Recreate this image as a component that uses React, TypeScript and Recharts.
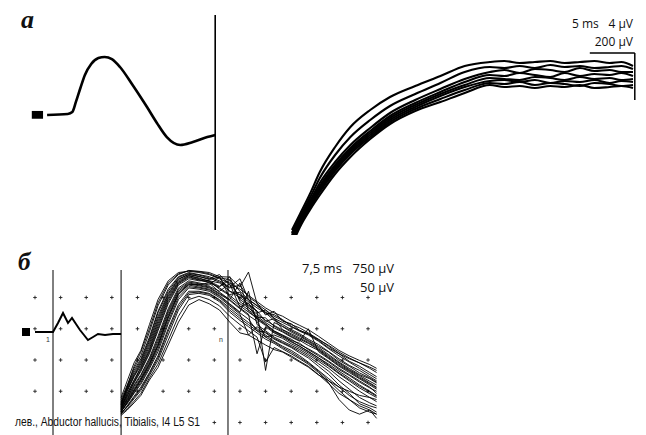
import React from 'react';
import {
  LineChart,
  Line,
  XAxis,
  YAxis,
  ReferenceLine,
  ReferenceArea,
  ScatterChart,
  Scatter,
} from 'recharts';

// ---------- panel a, left trace (ms / µV) ----------
const aLeftTime = [1.9, 4.2, 4.7, 5.1, 5.6, 6.1, 6.8, 7.6, 8.3, 9.1, 10, 11.4, 13, 14.1, 15.2, 16.7, 18.1, 19.7, 20.6];
const aLeftAmp = [0, 0.07, 0.2, 0.87, 1.8, 2.67, 3.4, 3.8, 3.87, 3.73, 3.2, 2.0, 0.53, -0.53, -1.47, -2.0, -1.8, -1.47, -1.33];

// ---------- panel a, right superimposed traces (ms / µV) ----------
const aRightTime = [0.1, 1, 2.1, 3.2, 4.9, 6.6, 8.8, 11, 13.8, 16.6, 19.3, 22.1, 23.7, 25.4, 27.1, 28.8, 30.4, 32.1, 33.7, 35.4, 36.7, 38];
const aRightTraces = [
  [20, 84, 164, 252, 352, 432, 500, 552, 596, 636, 676, 692, 696, 688, 692, 696, 688, 692, 696, 688, 692, 676],
  [8, 72, 148, 228, 320, 392, 460, 516, 564, 608, 652, 672, 668, 676, 668, 680, 672, 676, 668, 672, 676, 664],
  [0, 64, 136, 208, 292, 360, 428, 488, 540, 584, 624, 652, 660, 648, 664, 660, 652, 668, 656, 660, 652, 652],
  [-8, 56, 128, 196, 280, 348, 416, 476, 528, 572, 612, 640, 636, 648, 640, 632, 648, 636, 644, 640, 648, 636],
  [-16, 52, 120, 188, 272, 340, 408, 468, 520, 564, 600, 628, 624, 620, 632, 628, 620, 632, 624, 628, 620, 624],
  [-24, 44, 116, 180, 264, 332, 400, 460, 512, 556, 592, 616, 620, 612, 620, 608, 616, 612, 620, 608, 616, 612],
  [-32, 40, 108, 172, 256, 324, 392, 452, 504, 544, 580, 608, 604, 612, 600, 608, 604, 596, 608, 604, 596, 600],
  [-40, 32, 100, 160, 244, 312, 384, 444, 496, 532, 568, 600, 592, 596, 588, 596, 592, 600, 588, 592, 596, 588],
];

// ---------- panel b, left trace (50 µV scale) ----------
const bLeftTime = [0, 5.27, 6.73, 8.2, 9.66, 10.83, 12, 13.17, 14.34, 15.5, 17, 18.44, 20.5, 22.8, 25.2];
const bLeftAmp = [0, 0, 14.4, 30.4, 14.4, 22.4, 12.8, 3.2, -4.8, -12.8, -8, -3.2, -4.8, -3.2, -3.2];

// ---------- panel b, superimposed responses (750 µV scale) ----------
const bTime = [25.2, 27, 29, 31, 33.5, 36, 39, 42, 45, 48, 51, 54, 57, 60, 62.5, 65, 67.5, 70, 72.5, 75, 77.5, 80, 83, 86, 89, 92, 95, 98, 100];
const bTraces = [
  [-1650, -1250, -820, -520, 100, 700, 1150, 1350, 1380, 1350, 1300, 1200, 1100, 950, 800, 650, 500, 380, 300, 180, 80, -20, -180, -350, -520, -650, -760, -860, -950],
  [-1700, -1350, -950, -650, -80, 550, 1050, 1300, 1400, 1380, 1350, 1250, 1240, 1000, 1360, 600, 450, 300, 200, 100, 20, -100, -250, -420, -600, -720, -820, -950, -1050],
  [-1750, -1400, -1000, -720, -200, 420, 950, 1250, 1350, 1300, 1250, 1150, 1000, 1200, 700, 550, 400, 250, 150, 50, -60, -150, -300, -480, -650, -800, -950, -1100, -1200],
  [-1800, -1450, -1100, -800, -300, 300, 850, 1200, 1300, 1250, 1200, 1300, 1050, 800, 650, 500, 380, 200, 100, -20, -120, -250, -380, -550, -720, -880, -1000, -1150, -1250],
  [-1850, -1500, -1150, -880, -420, 180, 780, 1150, 1280, 1200, 1150, 1100, 900, 750, 600, 420, -1000, 150, 50, -80, -180, -300, -450, -620, -800, -950, -1100, -1200, -1300],
  [-1900, -1550, -1250, -950, -520, 60, 700, 1100, 1250, 1180, 1100, 1000, 1250, 650, 500, 350, 200, 80, -30, -150, -250, -350, -500, -680, -850, -1000, -1150, -1300, -1400],
  [-1880, -1600, -1300, -1020, -600, -50, 600, 1050, 1200, 1150, 1150, 950, 800, 600, 450, 300, 150, 20, -80, -200, -300, 0, -550, -720, -900, -1050, -1200, -1350, -1450],
  [-1950, -1650, -1350, -1100, -700, -180, 480, 980, 1150, 1100, 1050, 1250, 750, 550, 400, 250, 100, -50, -150, -250, -380, -480, -620, -780, -950, -1100, -1250, -1400, -1550],
  [-1920, -1700, -1420, -1180, -780, -300, 380, 900, 1100, 1050, 1000, 850, 700, 500, 350, -600, 50, -100, -200, -320, -420, -550, -700, -850, -1020, -1180, -1350, -1500, -1600],
  [-2000, -1750, -1500, -1250, -880, -420, 250, 820, 1050, 1000, 950, 800, 600, 400, 900, 100, -50, -200, -300, -400, -500, -620, -780, -950, -1150, -1320, -1500, -1650, -1750],
  [-1980, -1800, -1550, -1330, -960, -550, 120, 700, 980, 950, 900, 750, 550, 350, -150, 50, -100, -250, -350, -450, -580, -700, -900, -1100, -1350, -1550, -1800, -1900, -2000],
  [-2050, -1850, -1620, -1400, -1050, -650, 0, 580, 900, 900, 850, 700, 500, 300, 150, 0, -150, -300, -420, -520, -650, -800, -1000, -1200, -1400, -1600, -1750, -1850, -1900],
  [-2020, -1880, -1680, -1480, -1120, -760, -150, 450, 820, 850, 800, 650, 400, 200, 50, -100, -250, -350, -480, -600, -720, -850, -1050, -1300, -1700, -1950, -2050, -1950, -2150],
  [-2050, -1920, -1740, -1550, -1180, -850, -280, 300, 700, 780, 700, 550, 300, 100, -50, -200, -800, -450, -550, -650, -780, -900, -1100, -1320, -1550, -1700, -1850, -1950, -2050],
  [-2080, -1950, -1780, -1600, -1230, -930, -390, 160, 570, 700, 600, 450, 160, -100, -150, -270, -390, -500, -560, -680, -800, -920, -1110, -1250, -1400, -1500, -1600, -1650, -1700],
  [-1780, -1420, -1050, -760, -250, 380, 900, 1230, 1330, 1290, 1220, 1120, 980, 1050, 760, 620, 330, 420, 180, 120, -40, -130, -280, -460, -600, -780, -900, -1050, -1150],
  [-1830, -1480, -1130, -840, -360, 240, 820, 1180, 1310, 1260, 1180, 1240, 900, 820, 700, 380, 450, 260, 60, -50, -150, -280, -420, -560, -760, -900, -1060, -1180, -1280],
  [-1870, -1560, -1230, -920, -480, 120, 740, 1120, 1270, 1220, 1140, 1020, 1160, 700, 560, 430, 180, 240, -20, -120, -220, -330, -480, -650, -820, -980, -1120, -1260, -1350],
  [-1910, -1620, -1280, -990, -560, 0, 650, 1080, 1230, 1170, 1120, 980, 820, 880, 520, 280, 260, 60, -60, -180, -280, -400, -520, -700, -880, -1020, -1180, -1320, -1420],
  [-1940, -1680, -1380, -1130, -740, -240, 430, 940, 1120, 1080, 1020, 900, 1080, 520, 620, 220, 80, -80, -180, -280, -350, -500, -650, -800, -980, -1120, -1280, -1420, -1500],
  [-1960, -1720, -1460, -1210, -830, -360, 320, 860, 1080, 1030, 980, 830, 680, 480, 320, 180, -200, -150, -230, -360, -460, -580, -740, -900, -1080, -1250, -1420, -1560, -1650],
  [-1990, -1780, -1530, -1290, -920, -480, 180, 760, 1010, 980, 930, 780, 580, 380, 230, -50, -80, -230, -330, -430, -540, -660, -840, -1020, -1250, -1450, -1650, -1780, -1850],
  [-2030, -1860, -1650, -1440, -1080, -700, -60, 520, 860, 880, 830, 680, 450, 250, 100, -50, -200, -320, -450, -560, -690, -820, -1020, -1250, -1480, -1700, -1900, -2000, -2050],
  [-2000, -1760, -1480, -1220, -850, -400, 280, 840, 1060, 1060, 1100, 880, 700, 1100, 420, 260, 120, -60, -160, -300, -420, -540, -700, -880, -1060, -1220, -1380, -1520, -1620],
  [-1820, -1380, -900, -560, 0, 620, 1100, 1320, 1390, 1370, 1320, 1220, 1180, 900, 700, 560, 380, 340, 220, 60, -40, -120, -260, -400, -560, -700, -820, -920, -1000],
];

// grid of crosses: 7.5 ms x 750 µV
const bGridCols = [0, 7.5, 15, 22.5, 30, 37.5, 45, 52.5, 60, 67.5, 75, 82.5, 90, 97.5];
const bGridRows = [750, 0, -750, -1500];
const bGridBottomCols = [52.5, 60, 67.5, 75, 82.5, 90, 97.5];
const bGridBottomRow = -2250;
const bMarkers = [5.27, 25.2, 56.5];

const NO_MARGIN = { top: 0, right: 0, bottom: 0, left: 0 };

const aLeftData = aLeftTime.map((t, i) => ({ t, v: aLeftAmp[i] }));
const aRightData = aRightTime.map((t, i) => {
  const row: any = { t };
  aRightTraces.forEach((tr, k) => (row['s' + k] = tr[i]));
  return row;
});
const bLeftData = bLeftTime.map((t, i) => ({ t, v: bLeftAmp[i] }));
const bData = bTime.map((t, i) => {
  const row: any = { t };
  bTraces.forEach((tr, k) => (row['r' + k] = tr[i]));
  return row;
});
const bGridPoints = [
  ...bGridRows.flatMap((v) => bGridCols.map((t) => ({ t, v }))),
  ...bGridBottomCols.map((t) => ({ t, v: bGridBottomRow })),
];

const B_X = [-5.855, 101];
const B_Y = [-2550, 1890];

const Cross = (props: any) => {
  const { cx, cy } = props;
  return (
    <path
      d={`M${cx - 1.8},${cy}H${cx + 1.8}M${cx},${cy - 1.8}V${cy + 1.8}`}
      stroke="#222"
      strokeWidth={0.9}
    />
  );
};

const box = (left: number, top: number) => ({ position: 'absolute' as const, left, top });

export default function App() {
  return (
    <div style={{ position: 'absolute', left: 0, top: 0, width: 646, height: 435, background: '#fff', overflow: 'hidden' }}>
      {/* panel a, left */}
      <div style={box(30, 10)}>
        <LineChart width={186} height={225} data={aLeftData} margin={NO_MARGIN}>
          <XAxis type="number" dataKey="t" domain={[0, 20.667]} hide allowDataOverflow />
          <YAxis type="number" domain={[-8, 7]} hide allowDataOverflow />
          <ReferenceArea x1={0.2} x2={1.45} y1={-0.25} y2={0.27} fill="#000" fillOpacity={1} stroke="none" />
          <ReferenceLine segment={[{ x: 20.6, y: 6.67 }, { x: 20.6, y: -7.67 }]} stroke="#000" strokeWidth={2} />
          <Line type="monotone" dataKey="v" stroke="#000" strokeWidth={2.6} dot={false} isAnimationActive={false} />
        </LineChart>
      </div>

      {/* panel a, right */}
      <div style={box(291, 50)}>
        <LineChart width={348} height={185} data={aRightData} margin={NO_MARGIN}>
          <XAxis type="number" dataKey="t" domain={[0, 38.667]} hide allowDataOverflow />
          <YAxis type="number" domain={[0, 740]} hide allowDataOverflow />
          {aRightTraces.map((_, k) => (
            <Line key={k} type="monotone" dataKey={'s' + k} stroke="#000" strokeWidth={2.1} dot={false} isAnimationActive={false} />
          ))}
          <ReferenceLine segment={[{ x: 33.2, y: 728 }, { x: 38.2, y: 728 }]} stroke="#000" strokeWidth={1.5} />
          <ReferenceLine segment={[{ x: 38.2, y: 728 }, { x: 38.2, y: 540 }]} stroke="#000" strokeWidth={1.5} />
        </LineChart>
      </div>

      {/* panel b, grid */}
      <div style={box(15, 250)}>
        <ScatterChart width={365} height={185} margin={NO_MARGIN}>
          <XAxis type="number" dataKey="t" domain={B_X} hide allowDataOverflow />
          <YAxis type="number" dataKey="v" domain={B_Y} hide allowDataOverflow />
          <Scatter data={bGridPoints} shape={Cross} isAnimationActive={false} />
        </ScatterChart>
      </div>

      {/* panel b, superimposed responses */}
      <div style={box(15, 250)}>
        <LineChart width={365} height={185} data={bData} margin={NO_MARGIN}>
          <XAxis type="number" dataKey="t" domain={B_X} hide allowDataOverflow />
          <YAxis type="number" domain={B_Y} hide allowDataOverflow />
          {bMarkers.map((t) => (
            <ReferenceLine key={t} segment={[{ x: t, y: 1410 }, { x: t, y: -2550 }]} stroke="#000" strokeWidth={1} />
          ))}
          {bTraces.map((_, k) => (
            <Line key={k} type="linear" dataKey={'r' + k} stroke="#000" strokeWidth={0.9} dot={false} isAnimationActive={false} />
          ))}
        </LineChart>
      </div>

      {/* panel b, left trace on 50 µV scale */}
      <div style={box(15, 250)}>
        <LineChart width={365} height={185} data={bLeftData} margin={NO_MARGIN}>
          <XAxis type="number" dataKey="t" domain={B_X} hide allowDataOverflow />
          <YAxis type="number" domain={[-164.8, 131.2]} hide allowDataOverflow />
          <ReferenceArea x1={-3.8} x2={-1.46} y1={-6.4} y2={6.4} fill="#000" fillOpacity={1} stroke="none" />
          <Line type="linear" dataKey="v" stroke="#000" strokeWidth={2} dot={false} isAnimationActive={false} />
        </LineChart>
      </div>

      {/* labels */}
      <svg width={646} height={435} style={{ position: 'absolute', left: 0, top: 0 }}>
        <g fill="#111">
          <text x={21} y={28} fontFamily="Liberation Serif, serif" fontWeight="bold" fontStyle="italic" fontSize={26}>а</text>
          <text x={572} y={28} fontFamily="Open Sans, sans-serif" fontSize={12}>5 ms</text>
          <text x={633} y={28} textAnchor="end" fontFamily="Open Sans, sans-serif" fontSize={12}>4 µV</text>
          <text x={633} y={46} textAnchor="end" fontFamily="Open Sans, sans-serif" fontSize={12}>200 µV</text>

          <text x={18} y={270} fontFamily="Liberation Serif, serif" fontWeight="bold" fontStyle="italic" fontSize={25}>б</text>
          <text x={302} y={273} fontFamily="Open Sans, sans-serif" fontSize={13}>7,5 ms</text>
          <text x={394} y={273} textAnchor="end" fontFamily="Open Sans, sans-serif" fontSize={13}>750 µV</text>
          <text x={394} y={292} textAnchor="end" fontFamily="Open Sans, sans-serif" fontSize={13}>50 µV</text>
          <text x={46} y={342} fontFamily="Liberation Sans, sans-serif" fontSize={7} fill="#333">1</text>
          <text x={219} y={342} fontFamily="Liberation Sans, sans-serif" fontSize={7} fill="#333">n</text>
          <text
            x={15}
            y={426}
            fontFamily="Liberation Sans Narrow, Arial Narrow, Liberation Sans, sans-serif"
            fontSize={12}
            textLength={185}
            lengthAdjust="spacingAndGlyphs"
          >
            лев., Abductor hallucis, Tibialis, I4 L5 S1
          </text>
        </g>
      </svg>
    </div>
  );
}
